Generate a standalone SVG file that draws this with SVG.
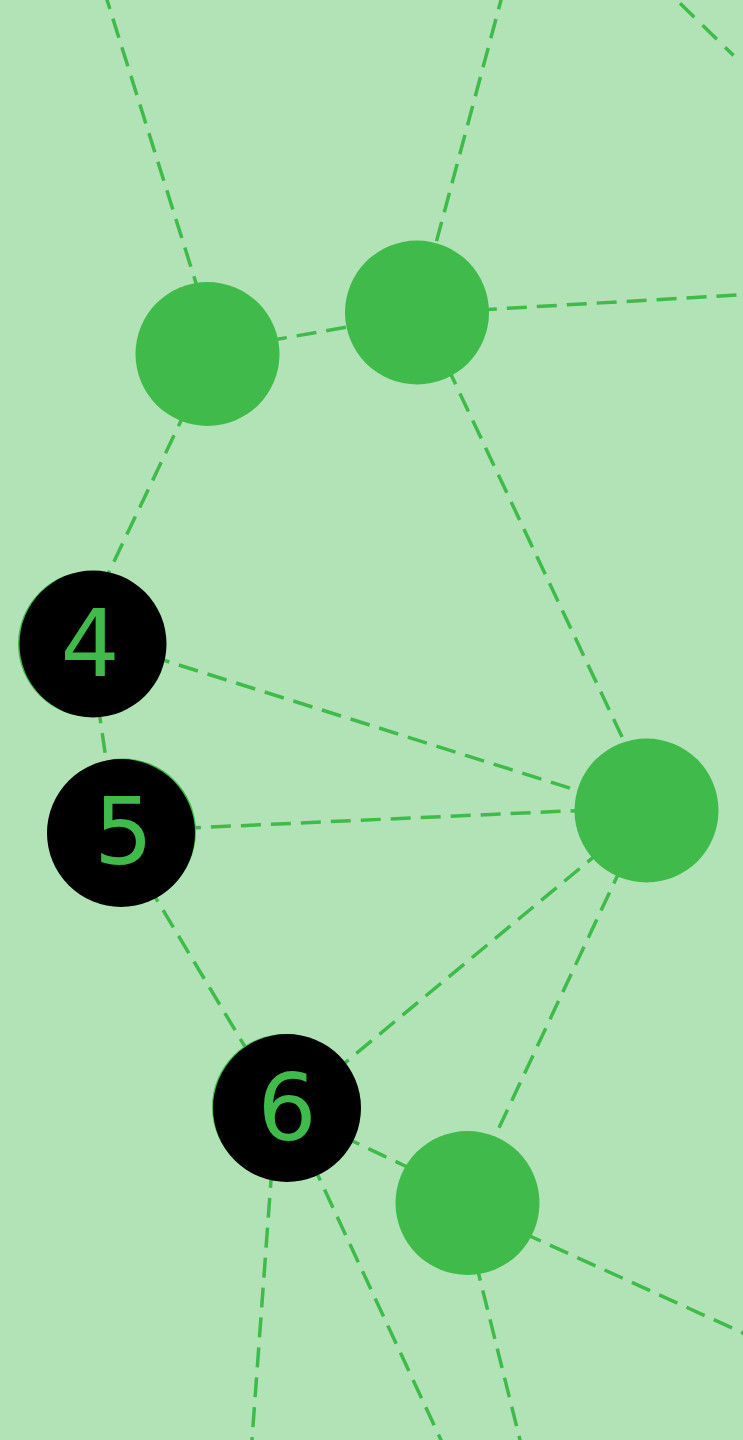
<svg xmlns="http://www.w3.org/2000/svg" width="743" height="1440" viewBox="0 0 743 1440">
<style>
.e{stroke:#3fba4b;stroke-width:3.5;stroke-dasharray:20 10;fill:none}
.g{fill:#3fba4b}
.k{fill:#000}
.t{font-family:"DejaVu Sans",sans-serif;font-size:93px;fill:#3fba4b;text-anchor:middle}
</style>
<rect width="743" height="1440" fill="#b2e3b7"/>
<g id="connectors">
<line class="e" x1="103.9" y1="-10" x2="207.6" y2="320"/>
<line class="e" x1="503.7" y1="-10" x2="417.3" y2="313"/>
<line class="e" x1="680" y1="3.3" x2="733.5" y2="55.5" style="stroke-dasharray:20 11.5"/>
<line class="e" x1="208" y1="351.5" x2="417" y2="314.7"/>
<line class="e" x1="417" y1="313.5" x2="760" y2="293.7"/>
<line class="e" x1="212.8" y1="354" x2="74.7" y2="644"/>
<line class="e" x1="421.5" y1="312" x2="657" y2="811"/>
<line class="e" x1="93" y1="638" x2="646" y2="812"/>
<line class="e" x1="89.2" y1="644" x2="116.8" y2="833"/>
<line class="e" x1="121" y1="831" x2="646" y2="807.5"/>
<line class="e" x1="116.8" y1="833" x2="281.8" y2="1108"/>
<line class="e" x1="287" y1="1110.8" x2="646" y2="813.6"/>
<line class="e" x1="647.8" y1="811" x2="463.7" y2="1203"/>
<line class="e" x1="287" y1="1110" x2="468" y2="1195.8"/>
<line class="e" x1="468" y1="1207.9" x2="760" y2="1340.7"/>
<line class="e" x1="276.3" y1="1108" x2="250.5" y2="1460"/>
<line class="e" x1="286.6" y1="1108" x2="450.3" y2="1460"/>
<line class="e" x1="461" y1="1203" x2="525" y2="1460"/>
</g>
<g id="nodeA"><circle class="g" cx="207.5" cy="354" r="72"/></g>
<g id="nodeB"><circle class="g" cx="417" cy="312.5" r="72"/></g>
<g id="nodeC"><circle class="g" cx="646.5" cy="810.5" r="72"/></g>
<g id="nodeD"><circle class="g" cx="467.5" cy="1203" r="72"/></g>
<g id="node4"><circle class="g" cx="91" cy="644" r="73"/><circle class="k" cx="93" cy="644" r="73.5"/><text class="t" x="90" y="676">4</text></g>
<g id="node5"><circle class="g" cx="123" cy="831.5" r="73"/><circle class="k" cx="121" cy="833" r="74"/><text class="t" x="123.5" y="863.5">5</text></g>
<g id="node6"><circle class="g" cx="285" cy="1107" r="73"/><circle class="k" cx="287" cy="1108" r="74"/><text class="t" x="287" y="1140">6</text></g>
</svg>
